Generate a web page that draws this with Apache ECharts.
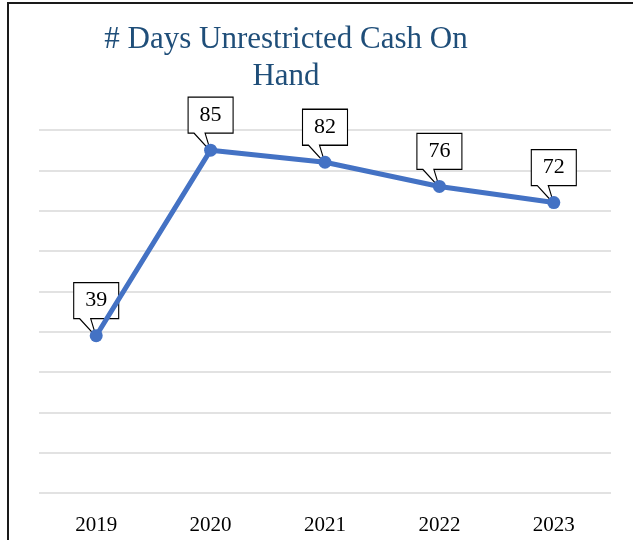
<!DOCTYPE html>
<html>
<head>
<meta charset="utf-8">
<script src="https://cdn.jsdelivr.net/npm/echarts@6/dist/echarts.min.js"></script>
<style>
    html, body { margin: 0; padding: 0; background: #fff; overflow: hidden; }
    #frame {
        position: absolute; left: 7px; top: 2px;
        width: 700px; height: 700px;
        border: 2px solid #1a1a1a; box-sizing: border-box;
    }
    #chart { position: absolute; left: 0; top: 0; width: 633px; height: 540px; }
</style>
</head>
<body>
<div id="frame"></div>
<div id="chart"></div>
<script>
const years = ['2019', '2020', '2021', '2022', '2023']
const daysCash = [39, 85, 82, 76, 72]
const yTicks = { min: 0, max: 90, interval: 10 }

// callout box with a thin tail pointing down at the point
const calloutPath = 'path://M0,0 L45,0 L45,36 L17,36 L22.5,54 L6,36 L0,36 Z'

const serif = '"Liberation Serif", "DejaVu Serif", serif'

const chart = echarts.init(document.getElementById('chart'))

chart.setOption({
    animation: false,
    title: {
        text: '# Days Unrestricted Cash On\nHand',
        left: 281,
        top: 16,
        textAlign: 'center',
        textStyle: {
            fontFamily: serif,
            fontSize: 31,
            fontWeight: 'normal',
            color: '#1f4e79',
            lineHeight: 37,
        },
    },
    grid: { left: 39, right: 22, top: 130, bottom: 47 },
    xAxis: {
        type: 'category',
        data: years,
        boundaryGap: true,
        axisLine: { show: false },
        axisTick: { show: false },
        axisLabel: {
            margin: 22,
            fontFamily: serif,
            fontSize: 21,
            color: '#000',
        },
    },
    yAxis: {
        type: 'value',
        min: yTicks.min,
        max: yTicks.max,
        interval: yTicks.interval,
        axisLabel: { show: false },
        axisLine: { show: false },
        axisTick: { show: false },
        splitLine: { lineStyle: { color: '#d9d9d9', width: 1.5 } },
    },
    series: [
        {
            type: 'line',
            data: daysCash,
            symbol: 'circle',
            symbolSize: 13,
            lineStyle: { color: '#4472c4', width: 5 },
            itemStyle: { color: '#4472c4' },
            z: 3,
            markPoint: {
                z: 1,
                symbol: calloutPath,
                symbolSize: [45, 54],
                symbolOffset: [0, -26],
                symbolKeepAspect: false,
                itemStyle: { color: '#fff', borderColor: '#000', borderWidth: 1.2 },
                label: {
                    show: true,
                    offset: [0, -9],
                    fontFamily: serif,
                    fontSize: 22,
                    color: '#000',
                },
                data: daysCash.map((v, i) => ({
                    coord: [years[i], v],
                    value: v,
                })),
            },
        },
    ],
})
</script>
</body>
</html>
